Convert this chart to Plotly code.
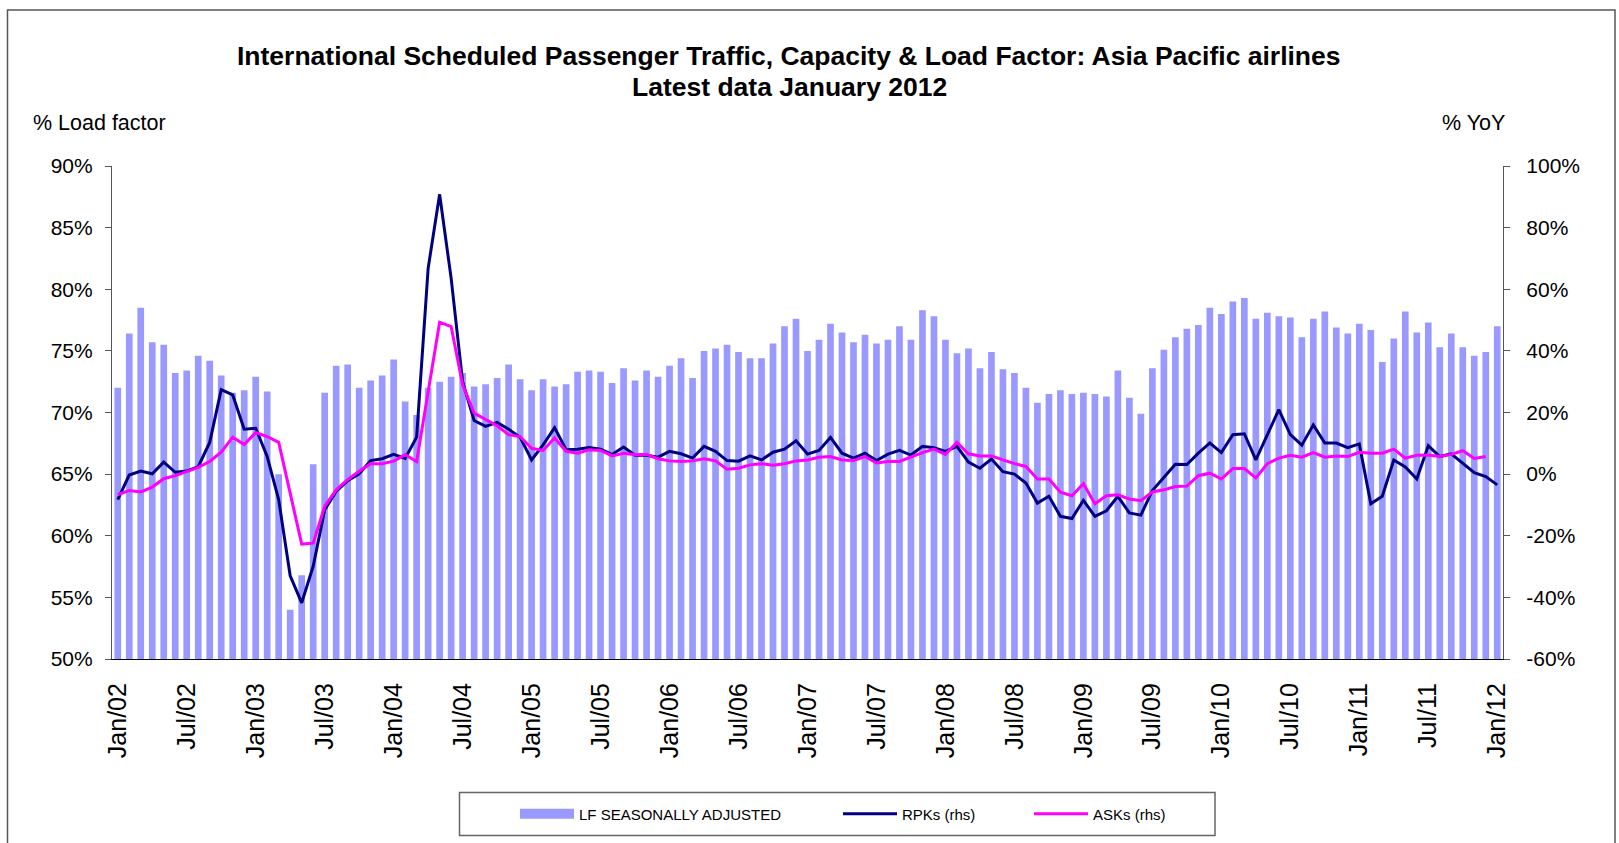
import plotly.graph_objects as go

# ---------------- data ----------------
years = [f"{y:02d}" for y in range(2, 13)]
month_names = ["Jan", "Feb", "Mar", "Apr", "May", "Jun", "Jul", "Aug", "Sep", "Oct", "Nov", "Dec"]
months = [f"{m}/{y}" for y in years for m in month_names][:121]  # Jan/02 .. Jan/12

lf_sa = [
    72.0, 76.4, 78.5, 75.7, 75.5, 73.2, 73.4, 74.6, 74.2, 73.0, 71.6, 71.8,
    72.9, 71.7, 65.0, 54.0, 56.8, 65.8, 71.6, 73.8, 73.9, 72.0, 72.6, 73.0,
    74.3, 70.9, 69.8, 72.0, 72.5, 72.9, 73.2, 72.1, 72.3, 72.8, 73.9, 72.7,
    71.8, 72.7, 72.1, 72.3, 73.3, 73.4, 73.3, 72.4, 73.6, 72.6, 73.4, 72.9,
    73.8, 74.4, 72.8, 75.0, 75.2, 75.5, 74.9, 74.4, 74.4, 75.6, 77.0, 77.6,
    75.0, 75.9, 77.2, 76.5, 75.7, 76.3, 75.6, 75.9, 77.0, 75.9, 78.3, 77.8,
    75.9, 74.8, 75.2, 73.6, 74.9, 73.5, 73.2, 72.0, 70.8, 71.5, 71.8, 71.5,
    71.6, 71.5, 71.3, 73.4, 71.2, 69.9, 73.6, 75.1, 76.1, 76.8, 77.1, 78.5,
    78.0, 79.0, 79.3, 77.6, 78.1, 77.8, 77.7, 76.1, 77.6, 78.2, 76.9, 76.4,
    77.2, 76.7, 74.1, 76.0, 78.2, 76.5, 77.3, 75.3, 76.4, 75.3, 74.6, 74.9,
    77.0,
]

rpk_yoy = [
    -8.3, -0.3, 1.0, 0.1, 3.9, 0.6, 1.0, 2.4, 10.3, 27.4, 25.7, 14.6,
    14.9, 5.7, -8.3, -33.0, -41.8, -29.9, -11.6, -5.6, -2.1, 0.1, 4.4, 5.0,
    6.4, 5.1, 12.0, 66.8, 90.8, 63.6, 30.0, 17.4, 15.5, 16.8, 14.6, 12.0,
    4.6, 9.5, 15.1, 7.9, 8.1, 8.6, 8.1, 6.4, 8.8, 6.1, 6.1, 5.5,
    7.4, 6.6, 5.2, 9.0, 7.4, 4.4, 4.2, 5.9, 4.6, 7.1, 8.1, 10.8,
    6.5, 7.7, 11.9, 6.8, 5.2, 6.8, 4.4, 6.5, 7.7, 6.2, 9.0, 8.6,
    7.4, 9.0, 3.9, 1.9, 4.9, 0.8, 0.0, -2.9, -9.4, -7.2, -13.7, -14.4,
    -8.5, -13.7, -11.9, -7.2, -12.6, -13.3, -5.3, -1.0, 3.2, 3.1, 6.8, 10.1,
    7.0, 12.8, 13.1, 4.6, 12.8, 20.9, 12.8, 9.4, 16.0, 10.1, 10.1, 8.6,
    9.8, -9.6, -7.2, 4.6, 2.3, -1.6, 9.2, 5.7, 6.6, 3.4, 0.5, -0.8,
    -3.5,
]

ask_yoy = [
    -6.7, -5.3, -5.8, -4.2, -1.5, -0.5, 0.8, 2.2, 4.1, 7.1, 12.0, 9.6,
    13.5, 12.2, 10.3, -6.2, -22.7, -22.4, -10.5, -5.1, -1.8, 0.9, 3.4, 3.4,
    4.2, 6.3, 4.1, 26.7, 49.3, 47.9, 29.0, 19.8, 17.8, 15.7, 12.8, 12.2,
    8.4, 7.7, 11.7, 7.4, 6.8, 7.9, 7.7, 5.9, 6.8, 6.3, 6.4, 5.0,
    4.3, 4.1, 4.3, 5.0, 4.3, 1.6, 1.9, 3.0, 3.4, 2.9, 3.4, 4.3,
    4.6, 5.5, 5.7, 4.6, 4.4, 5.7, 3.6, 4.1, 4.1, 5.5, 7.0, 8.1,
    6.4, 10.3, 6.6, 5.9, 5.9, 4.6, 3.4, 2.5, -1.6, -1.6, -5.9, -7.0,
    -3.1, -9.6, -7.0, -6.7, -8.1, -8.6, -5.8, -5.1, -4.0, -3.9, -0.5, 0.3,
    -1.6, 1.8, 1.8, -1.2, 3.4, 5.2, 6.1, 5.5, 7.0, 5.5, 5.9, 5.7,
    7.1, 6.8, 6.8, 8.1, 5.2, 6.1, 6.2, 5.7, 6.4, 7.6, 5.1, 5.7,
    None,
]

tick_labels = months[::6]
lf_ticks = list(range(50, 91, 5))
yoy_ticks = list(range(-60, 101, 20))
lf_ticktext = [f"{v}%" for v in lf_ticks]
yoy_ticktext = [f"{v}%" for v in yoy_ticks]

# ---------------- figure ----------------
FONT = "Liberation Sans, Arial, Helvetica, sans-serif"
W, H = 1619, 843
ML, MR, MT, MB = 112, 116, 166, 184
PW, PH = W - ML - MR, H - MT - MB
BAR_COLOR = "#9999FF"


def px_x(px):
    return (px - ML) / PW


def px_y(py):
    return (H - MB - py) / PH


fig = go.Figure()
fig.add_trace(go.Bar(
    x=months, y=lf_sa, name="LF SEASONALLY ADJUSTED",
    marker=dict(color=BAR_COLOR, line=dict(width=0)),
    xaxis="x", yaxis="y", showlegend=False,
))
# legend key for the bar series, drawn as a wide swatch like the original (no visible data)
fig.add_trace(go.Scatter(
    x=months[:1], y=[None], name="LF SEASONALLY ADJUSTED", mode="lines",
    line=dict(color=BAR_COLOR, width=10),
    xaxis="x", yaxis="y", legend="legend", hoverinfo="skip",
))
fig.add_trace(go.Scatter(
    x=months, y=rpk_yoy, name="RPKs (rhs)", mode="lines",
    line=dict(color="#000080", width=3),
    xaxis="x", yaxis="y2", legend="legend2",
))
fig.add_trace(go.Scatter(
    x=months, y=ask_yoy, name="ASKs (rhs)", mode="lines",
    line=dict(color="#FF00FF", width=3),
    xaxis="x", yaxis="y2", legend="legend3",
))

n = len(months)
boundary_ticks = [k - 0.5 for k in range(0, n, 6)]
rng = [-0.5, n - 0.5]

tickfont = dict(family=FONT, size=21, color="black")

fig.update_layout(
    width=W, height=H,
    margin=dict(l=ML, r=MR, t=MT, b=MB, pad=0),
    paper_bgcolor="white", plot_bgcolor="white",
    font=dict(family=FONT, color="black"),
    bargap=0.42,
    showlegend=True,
    xaxis=dict(
        type="category", range=rng, tickmode="array",
        tickvals=tick_labels, ticktext=tick_labels,
        tickangle=-90, tickfont=dict(family=FONT, size=25, color="black"),
        ticks="", ticklabelstandoff=13,
        showline=True, linecolor="black", linewidth=1.2,
        showgrid=False, zeroline=False, fixedrange=True,
    ),
    xaxis2=dict(
        overlaying="x", anchor="y", side="bottom", type="linear", range=rng,
        tickmode="array", tickvals=boundary_ticks, ticks="outside", ticklen=7,
        tickcolor="black", tickwidth=1.2, showticklabels=False,
        showline=False, showgrid=False, zeroline=False,
    ),
    xaxis3=dict(
        overlaying="x", anchor="y", side="bottom", type="linear", range=rng,
        tickmode="array", tickvals=boundary_ticks, ticks="inside", ticklen=7,
        tickcolor="black", tickwidth=1.2, showticklabels=False,
        showline=False, showgrid=False, zeroline=False,
    ),
    yaxis=dict(
        range=[50, 90], tickmode="array", tickvals=lf_ticks, ticktext=lf_ticktext,
        ticks="outside", ticklen=6, tickcolor="#555555", tickwidth=1.2,
        tickfont=tickfont, ticklabelstandoff=8,
        showline=True, linecolor="#555555", linewidth=1.2,
        showgrid=False, zeroline=False,
    ),
    yaxis3=dict(
        overlaying="y", side="left", range=[50, 90], tickmode="array",
        tickvals=lf_ticks, ticks="inside", ticklen=6, tickcolor="#555555",
        tickwidth=1.2, showticklabels=False, showline=False,
        showgrid=False, zeroline=False,
    ),
    yaxis2=dict(
        overlaying="y", side="right", range=[-60, 100], tickmode="array",
        tickvals=yoy_ticks, ticktext=yoy_ticktext,
        ticks="outside", ticklen=6, tickcolor="#555555", tickwidth=1.2,
        tickfont=tickfont, ticklabelstandoff=12,
        showline=True, linecolor="#555555", linewidth=1.2,
        showgrid=False, zeroline=False,
    ),
)

legend_common = dict(
    orientation="h", yanchor="middle", xanchor="left",
    bgcolor="rgba(0,0,0,0)", borderwidth=0, itemwidth=54,
    font=dict(family=FONT, size=15, color="black"),
    itemclick=False, itemdoubleclick=False,
)
fig.update_layout(
    legend=dict(x=px_x(515), y=px_y(814), **legend_common),
    legend2=dict(x=px_x(838), y=px_y(814), **legend_common),
    legend3=dict(x=px_x(1029), y=px_y(814), **legend_common),
)

annotations = [
    dict(text="<b>International Scheduled Passenger Traffic, Capacity & Load Factor: Asia Pacific airlines</b>",
         x=px_x(789), y=px_y(56), xref="paper", yref="paper",
         xanchor="center", yanchor="middle", showarrow=False,
         font=dict(family=FONT, size=26.5, color="black")),
    dict(text="<b>Latest data January 2012</b>",
         x=px_x(789), y=px_y(87), xref="paper", yref="paper",
         xanchor="center", yanchor="middle", showarrow=False,
         font=dict(family=FONT, size=26.5, color="black")),
    dict(text="% Load factor", x=px_x(31), y=px_y(123), xref="paper", yref="paper",
         xanchor="left", yanchor="middle", showarrow=False,
         font=dict(family=FONT, size=21.5, color="black")),
    dict(text="% YoY", x=px_x(1507), y=px_y(123), xref="paper", yref="paper",
         xanchor="right", yanchor="middle", showarrow=False,
         font=dict(family=FONT, size=21.5, color="black")),
]
fig.update_layout(annotations=annotations)

shapes = [
    # outer chart frame
    dict(type="rect", xref="paper", yref="paper",
         x0=px_x(7.5), x1=px_x(1615), y0=px_y(860), y1=px_y(10),
         line=dict(color="#555555", width=1.5), fillcolor="rgba(0,0,0,0)", layer="below"),
    # legend box
    dict(type="rect", xref="paper", yref="paper",
         x0=px_x(459.5), x1=px_x(1215), y0=px_y(835.5), y1=px_y(792.5),
         line=dict(color="#666666", width=1.5), fillcolor="rgba(0,0,0,0)", layer="below"),
]
fig.update_layout(shapes=shapes)

fig.write_html(
    "out.html",
    config={"displayModeBar": False},
    post_script="document.body.style.margin='0';document.body.style.overflow='hidden';",
)
